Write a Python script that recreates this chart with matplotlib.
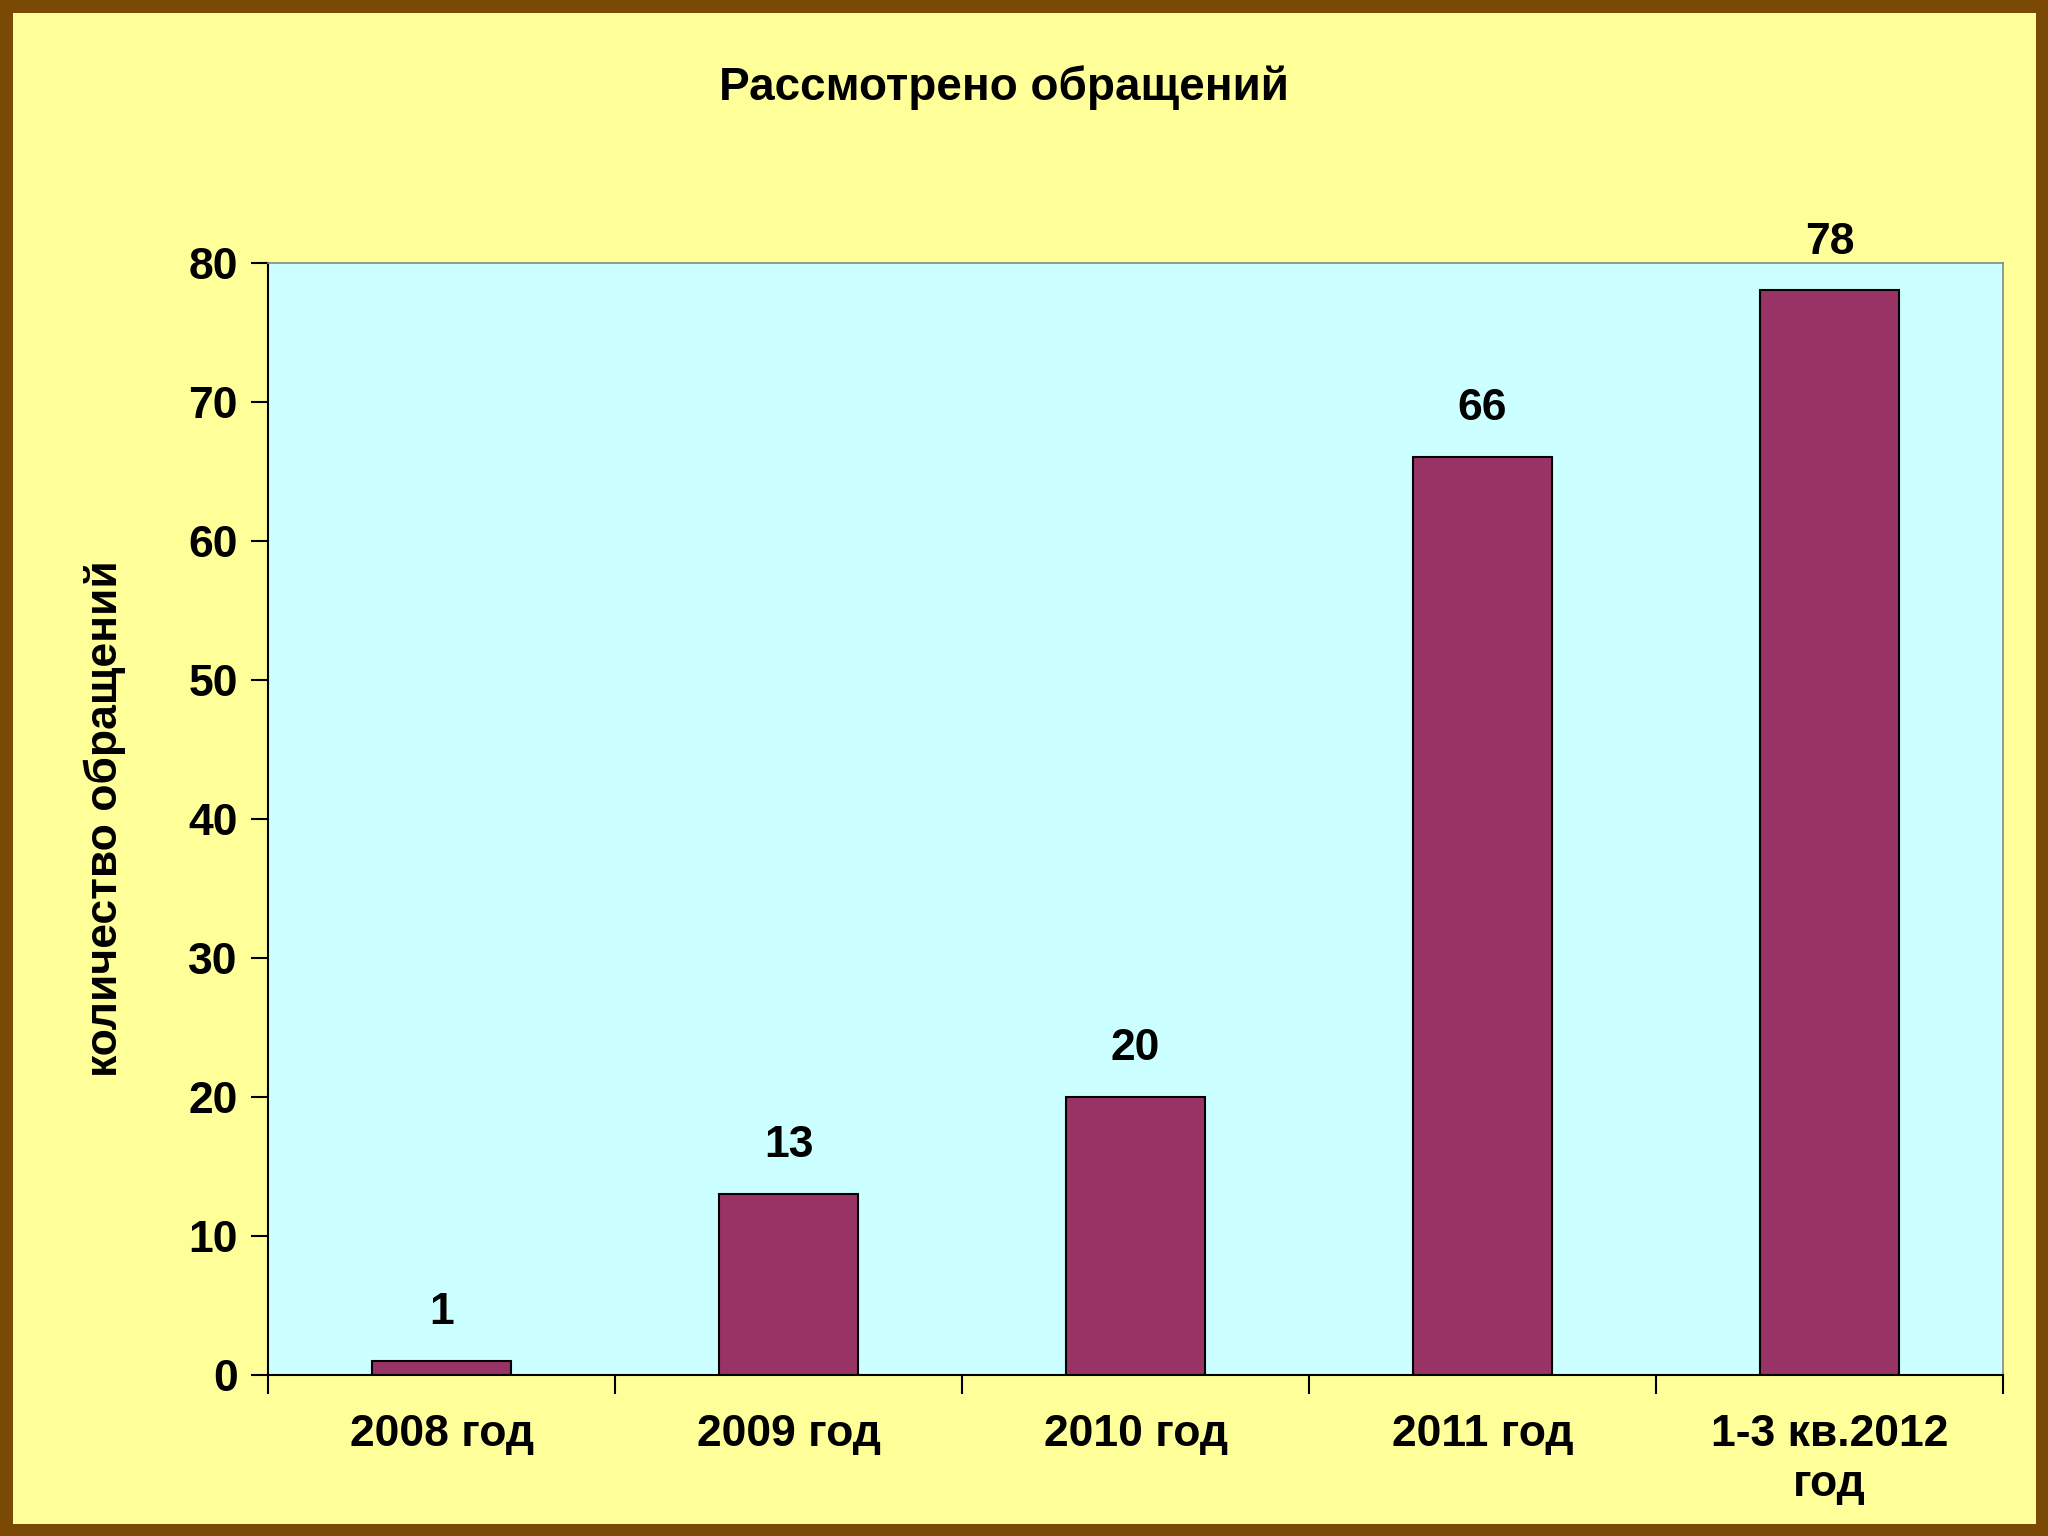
import matplotlib

matplotlib.use("Agg")
import matplotlib.pyplot as plt
from matplotlib.patches import Rectangle

plt.rcParams["font.family"] = ["Liberation Sans", "DejaVu Sans"]
plt.rcParams["font.weight"] = "bold"

categories = ["2008 год", "2009 год", "2010 год", "2011 год", "1-3 кв.2012\nгод"]
values = [1, 13, 20, 66, 78]

fig = plt.figure(figsize=(20.48, 15.36), dpi=100, facecolor="#FFFF99")
ax = fig.add_axes([0.131, 0.105, 0.847, 0.724])
ax.set_facecolor("#CCFFFF")

x = range(len(categories))
ax.bar(x, values, width=0.4, color="#993366", edgecolor="black", linewidth=1.5)
for xi, v in zip(x, values):
    ax.text(xi, v + 2, str(v), ha="center", va="bottom", fontsize=32, fontweight="bold", clip_on=False)

ax.set_xlim(-0.5, len(categories) - 0.5)
ax.set_ylim(0, 80)
ax.set_yticks(range(0, 81, 10))
ax.set_xticks([i - 0.5 for i in range(len(categories) + 1)])
ax.set_xticklabels([])
ax.set_xticks(list(x), minor=True)
ax.set_xticklabels(categories, minor=True, fontsize=32, fontweight="bold", linespacing=1.3)
ax.tick_params(axis="x", which="minor", length=0, pad=28)
ax.tick_params(axis="x", which="major", length=14, width=1.5, direction="out")
ax.tick_params(axis="y", labelsize=32, length=12, width=1.5, direction="out", pad=10)
for lab in ax.get_yticklabels():
    lab.set_fontweight("bold")
for lab in ax.get_xticklabels(minor=True):
    lab.set_verticalalignment("top")

for side in ["left", "bottom"]:
    ax.spines[side].set_linewidth(1.5)
for side in ["top", "right"]:
    ax.spines[side].set_color("#888888")
    ax.spines[side].set_linewidth(1.2)

ax.set_ylabel("количество обращений", fontsize=32, fontweight="bold", labelpad=45)
fig.text(0.49, 0.943, "Рассмотрено обращений", ha="center", va="center", fontsize=33, fontweight="bold")

fig.patches.append(Rectangle((0, 0), 1, 1, transform=fig.transFigure, fill=False,
                             edgecolor="#7a4a05", linewidth=18))

fig.savefig("out.png", dpi=100, facecolor=fig.get_facecolor())
